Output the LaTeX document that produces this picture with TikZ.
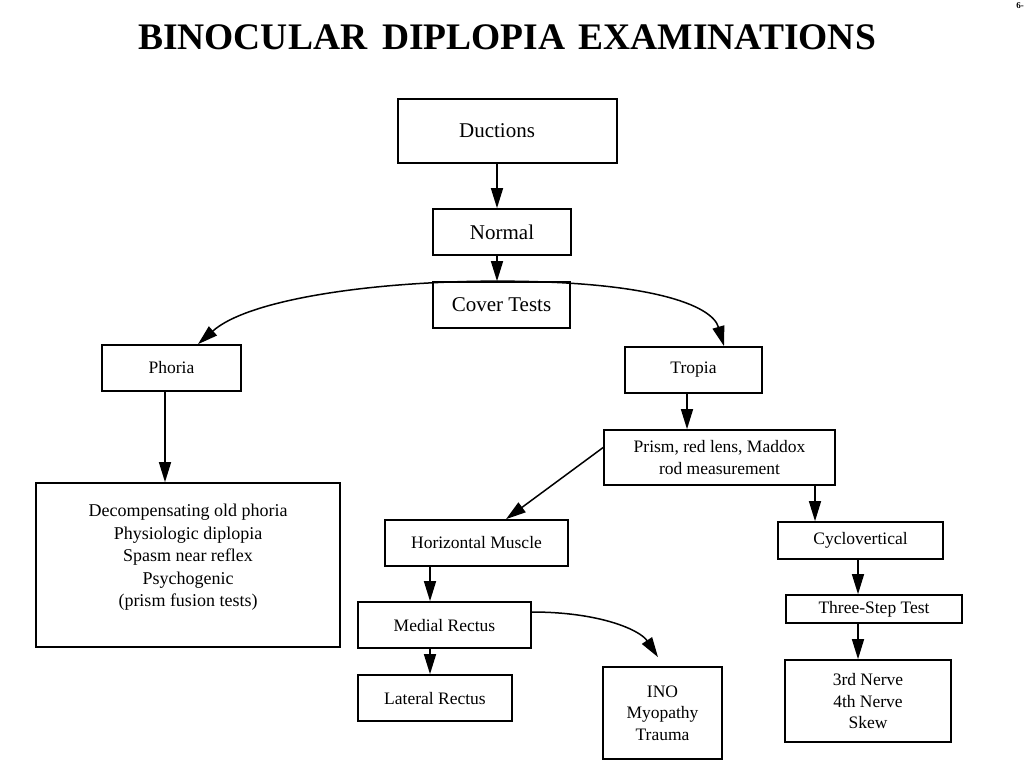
\documentclass[tikz,border=0pt]{standalone}
\usepackage{fontspec}
\setmainfont{Liberation Serif}
\usetikzlibrary{arrows.meta}
\begin{document}
\begin{tikzpicture}[x=1pt,y=-1pt,
  box/.style={draw, line width=1.7pt, inner sep=0pt, align=center, font=\fontsize{17.5}{21.5}\selectfont},
  bigbox/.style={box, font=\fontsize{21}{25}\selectfont},
  arr/.style={line width=1.5pt, -{Triangle[length=20pt,width=12pt]}},
  txt/.style={align=center, inner sep=0pt, font=\fontsize{18}{22.5}\selectfont}]
\useasboundingbox (0,0) rectangle (1024,772);
\fill[white] (0,0) rectangle (1024,772);
\coordinate (x497) at (497,0);
\coordinate (x165) at (165,0);
\coordinate (x198) at (198,0);
\coordinate (x724) at (724,0);
\coordinate (x687) at (687,0);
\coordinate (x815) at (815,0);
\coordinate (x506) at (506,0);
\coordinate (x430) at (430,0);
\coordinate (x858) at (858,0);
\coordinate (x658) at (658,0);

\node[font=\bfseries\fontsize{37.5}{40}\selectfont] (title) at (507,37) {BINOCULAR\hspace{0.15em} DIPLOPIA\hspace{0.35em}EXAMINATIONS};
\node[font=\bfseries\fontsize{9}{10}\selectfont, anchor=north east, inner sep=0pt] (pg) at (1024,2) {6-};

\node[bigbox, minimum width=219pt, minimum height=64pt] (duct) at (507.5,131) {\hspace*{-21pt}Ductions};
\node[bigbox, minimum width=138pt, minimum height=46pt] (norm) at (502,232) {Normal};
\node[bigbox, minimum width=137pt, minimum height=46pt] (cover) at (501.5,305) {Cover Tests};
\node[box, minimum width=139pt, minimum height=46pt] (phoria) at (171.5,368) {Phoria};
\node[box, minimum width=137pt, minimum height=46pt] (tropia) at (693.5,370) {Tropia};
\node[box, minimum width=231pt, minimum height=55pt] (prism) at (719.5,457.5) {Prism, red lens, Maddox\\rod measurement};
\node[box, minimum width=304pt, minimum height=164pt,
  label={[txt, yshift=7.5pt]center:{Decompensating old phoria\\Physiologic diplopia\\Spasm near reflex\\Psychogenic\\(prism fusion tests)}}] (dec) at (188,565) {};
\node[box, minimum width=183pt, minimum height=46pt] (horiz) at (476.5,543) {Horizontal Muscle};
\node[box, minimum width=165pt, minimum height=37pt, text depth=5pt] (cyclo) at (860.5,540.5) {Cyclovertical};
\node[box, minimum width=173pt, minimum height=46pt] (medial) at (444.5,625) {Medial Rectus};
\node[box, minimum width=176pt, minimum height=28pt] (three) at (874,609) {Three-Step Test};
\node[box, minimum width=154pt, minimum height=46pt] (lateral) at (435,698) {Lateral Rectus};
\node[box, minimum width=119pt, minimum height=92pt] (ino) at (662.5,713) {INO\\Myopathy\\Trauma};
\node[box, minimum width=166pt, minimum height=82pt] (nerve) at (868,701) {3rd Nerve\\4th Nerve\\Skew};

\draw[arr] (duct.south -| x497) -- (norm.north -| x497);
\draw[arr] (norm.south -| x497) -- (cover.north -| x497);
\draw[arr] (cover.north -| x497) .. controls (380,281) and (250,298) .. (phoria.north -| x198);
\draw[arr] (cover.north -| x497) .. controls (650,281) and (712,305) .. (tropia.north -| x724);
\draw[arr] (phoria.south -| x165) -- (dec.north -| x165);
\draw[arr] (tropia.south -| x687) -- (prism.north -| x687);
\draw[arr] ([yshift=10pt]prism.west) -- (horiz.north -| x506);
\draw[arr] (prism.south -| x815) -- (cyclo.north -| x815);
\draw[arr] (horiz.south -| x430) -- (medial.north -| x430);
\draw[arr] (medial.south -| x430) -- (lateral.north -| x430);
\draw[arr] ([yshift=13pt]medial.east) .. controls (600,612) and (640,630) .. ([yshift=9pt]ino.north -| x658);
\draw[arr] (cyclo.south -| x858) -- (three.north -| x858);
\draw[arr] (three.south -| x858) -- (nerve.north -| x858);
\end{tikzpicture}
\end{document}
